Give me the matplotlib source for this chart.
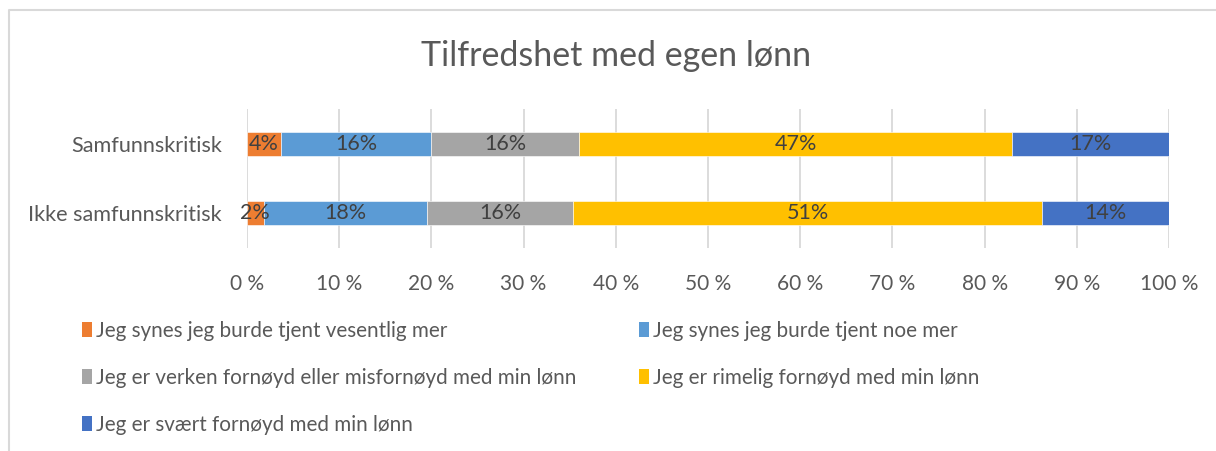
import matplotlib
matplotlib.use("Agg")
import matplotlib.pyplot as plt
from matplotlib.lines import Line2D
from matplotlib.patches import Patch
import numpy as np

plt.rcParams['font.family'] = ['Lato', 'DejaVu Sans']

categories = ["Ikke samfunnskritisk", "Samfunnskritisk"]
series_names = [
    "Jeg synes jeg burde tjent vesentlig mer",
    "Jeg synes jeg burde tjent noe mer",
    "Jeg er verken fornøyd eller misfornøyd med min lønn",
    "Jeg er rimelig fornøyd med min lønn",
    "Jeg er svært fornøyd med min lønn",
]
# percentages, order: [Ikke samfunnskritisk, Samfunnskritisk]
vesentlig_mer = [1.8, 3.7]
noe_mer = [17.7, 16.3]
verken = [15.9, 16.0]
rimelig = [50.8, 47.0]
svaert = [13.8, 17.0]
label_ikke = [2, 18, 16, 51, 14]
label_samf = [4, 16, 16, 47, 17]
xticks = [0, 10, 20, 30, 40, 50, 60, 70, 80, 90, 100]

colors = ["#ED7D31", "#5B9BD5", "#A5A5A5", "#FFC000", "#4472C4"]
series = [vesentlig_mer, noe_mer, verken, rimelig, svaert]
labels_by_cat = [label_ikke, label_samf]

W, H = 1216, 451
fig = plt.figure(figsize=(W / 100, H / 100), dpi=100)
fig.patch.set_facecolor("white")

ax = fig.add_axes([247 / W, 1 - 248 / H, 922 / W, 139 / H])
ypos = np.arange(len(categories))
left = np.zeros(len(categories))
handles = []
for i, (vals, col, name) in enumerate(zip(series, colors, series_names)):
    vals = np.array(vals)
    ax.barh(ypos, vals, left=left, height=0.35, color=col, zorder=3,
            edgecolor="white", linewidth=0.4)
    for j in range(len(categories)):
        ax.text(left[j] + vals[j] / 2, ypos[j], f"{labels_by_cat[j][i]}%",
                ha="center", va="center", fontsize=15.5, color="#404040", zorder=4)
    left = left + vals
    handles.append(Patch(facecolor=col, edgecolor="none", label=name))

ax.set_xlim(0, 100)
ax.set_ylim(-0.5, 1.5)
ax.set_xticks(xticks)
ax.set_xticklabels([f"{t} %" for t in xticks])
ax.set_yticks(ypos)
ax.set_yticklabels(categories)
ax.tick_params(axis="x", length=0, pad=19, labelsize=15, labelcolor="#595959")
ax.tick_params(axis="y", length=0, pad=18, labelsize=15.6, labelcolor="#595959")
for s in ax.spines.values():
    s.set_visible(False)
ax.grid(axis="x", color="#D9D9D9", linewidth=1.3, zorder=0)
ax.set_axisbelow(True)

fig.text(616 / W, 1 - 56 / H, "Tilfredshet med egen lønn", ha="center", va="center",
         fontsize=24.5, color="#595959")

order = [0, 2, 4, 1, 3]
leg = fig.legend([handles[k] for k in order], [series_names[k] for k in order],
                 ncol=2, loc="upper left", bbox_to_anchor=(82 / W, 1 - 321 / H),
                 frameon=False, fontsize=14.9, labelcolor="#595959",
                 handlelength=0.5, handleheight=0.75, handletextpad=0.2,
                 labelspacing=1.3, columnspacing=3.0, borderaxespad=0, borderpad=0)

# chart border (top and left visible)
fig.add_artist(Line2D([8.5 / W, 8.5 / W, 1.0], [0.0, 1 - 9.5 / H, 1 - 9.5 / H],
                      transform=fig.transFigure, color="#D9D9D9", linewidth=1.5))

fig.savefig("out.png", dpi=100)
